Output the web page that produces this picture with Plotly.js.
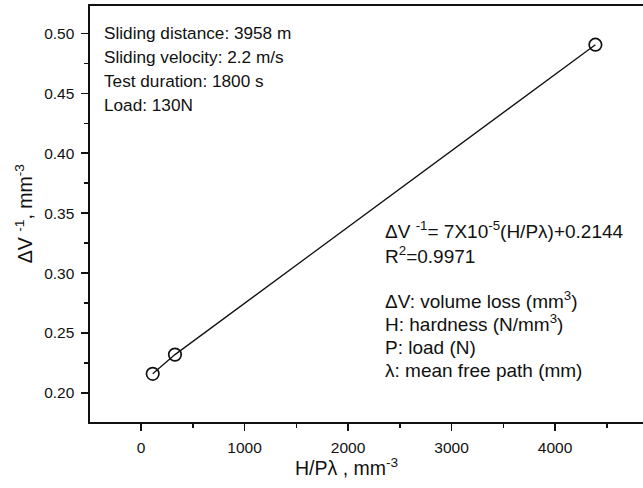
<!DOCTYPE html>
<html>
<head>
<meta charset="utf-8">
<script src="https://cdn.plot.ly/plotly-3.0.1.min.js"></script>
<style>html,body{margin:0;padding:0;background:#fff;}#chart{width:643px;height:488px;}</style>
</head>
<body>
<div id="chart"></div>
<script>
const xValues = [113, 328, 4390];
const yValues = [0.216, 0.232, 0.4905];
const infoLines = ["Sliding distance: 3958 m", "Sliding velocity: 2.2 m/s", "Test duration: 1800 s", "Load: 130N"];
const fitLines = ["\u0394V <sup>-1</sup>= 7X10<sup>-5</sup>(H/P\u03bb)+0.2144", "R<sup>2</sup>=0.9971"];
const legendLines = ["\u0394V: volume loss (mm<sup>3</sup>)", "H: hardness (N/mm<sup>3</sup>)", "P: load (N)", "\u03bb: mean free path (mm)"];
const xTitle = "H/P\u03bb , mm<sup>-3</sup>";
const yTitle = "\u0394V <sup>-1</sup>, mm<sup>-3</sup>";

const font = "Liberation Sans, Arial, sans-serif";
const infoY = [0.935, 0.877, 0.820, 0.762];
const fitY = [0.4615, 0.401];
const legY = [0.293, 0.238, 0.180, 0.1226];
const annotations = [];
infoLines.forEach((t, i) => annotations.push({text: t, xref: 'paper', yref: 'paper', x: 0.0226, y: infoY[i], xanchor: 'left', yanchor: 'middle', showarrow: false, font: {family: font, size: 17.2, color: '#111'}}));
fitLines.forEach((t, i) => annotations.push({text: t, xref: 'paper', yref: 'paper', x: 0.530, y: fitY[i], xanchor: 'left', yanchor: 'middle', showarrow: false, font: {family: font, size: 19, color: '#111'}}));
legendLines.forEach((t, i) => annotations.push({text: t, xref: 'paper', yref: 'paper', x: 0.530, y: legY[i], xanchor: 'left', yanchor: 'middle', showarrow: false, font: {family: font, size: 19, color: '#111'}}));
annotations.push({text: xTitle, xref: 'paper', yref: 'paper', x: 0.4647, y: -0.108, xanchor: 'center', yanchor: 'middle', showarrow: false, font: {family: font, size: 19.5, color: '#111'}});
annotations.push({text: yTitle, xref: 'paper', yref: 'paper', x: -0.119, y: 0.5, xanchor: 'center', yanchor: 'middle', textangle: -90, showarrow: false, font: {family: font, size: 19.5, color: '#111'}});

const trace = {
  x: xValues, y: yValues, type: 'scatter', mode: 'lines+markers',
  line: {color: '#111', width: 1.3},
  marker: {symbol: 'circle-open', size: 12.5, color: '#111', line: {width: 1.7, color: '#111'}},
  cliponaxis: false, showlegend: false
};
const layout = {
  width: 643, height: 488,
  margin: {l: 90, r: 0, t: 6, b: 66},
  paper_bgcolor: '#fff', plot_bgcolor: '#fff',
  font: {family: font, color: '#111'},
  xaxis: {
    range: [-493, 4850], showgrid: false, zeroline: false,
    showline: true, linecolor: '#111', linewidth: 1.6, mirror: true,
    ticks: 'outside', ticklen: 7, tickwidth: 1.5, tickcolor: '#111',
    tick0: 0, dtick: 1000,
    minor: {ticks: 'outside', ticklen: 4, tickwidth: 1.5, tickcolor: '#111', dtick: 500, tick0: 0, showgrid: false},
    tickfont: {size: 15.5, family: font, color: '#111'},
    ticklabelstandoff: 4
  },
  yaxis: {
    range: [0.1758, 0.5228], showgrid: false, zeroline: false,
    showline: true, linecolor: '#111', linewidth: 1.6, mirror: false,
    ticks: 'outside', ticklen: 7, tickwidth: 1.5, tickcolor: '#111',
    tick0: 0.2, dtick: 0.05, tickformat: '.2f',
    minor: {ticks: 'outside', ticklen: 4, tickwidth: 1.5, tickcolor: '#111', dtick: 0.025, tick0: 0.2, showgrid: false},
    tickfont: {size: 15.5, family: font, color: '#111'},
    ticklabelstandoff: 4
  },
  annotations: annotations
};
Plotly.newPlot('chart', [trace], layout, {displayModeBar: false, staticPlot: true});
</script>
</body>
</html>
